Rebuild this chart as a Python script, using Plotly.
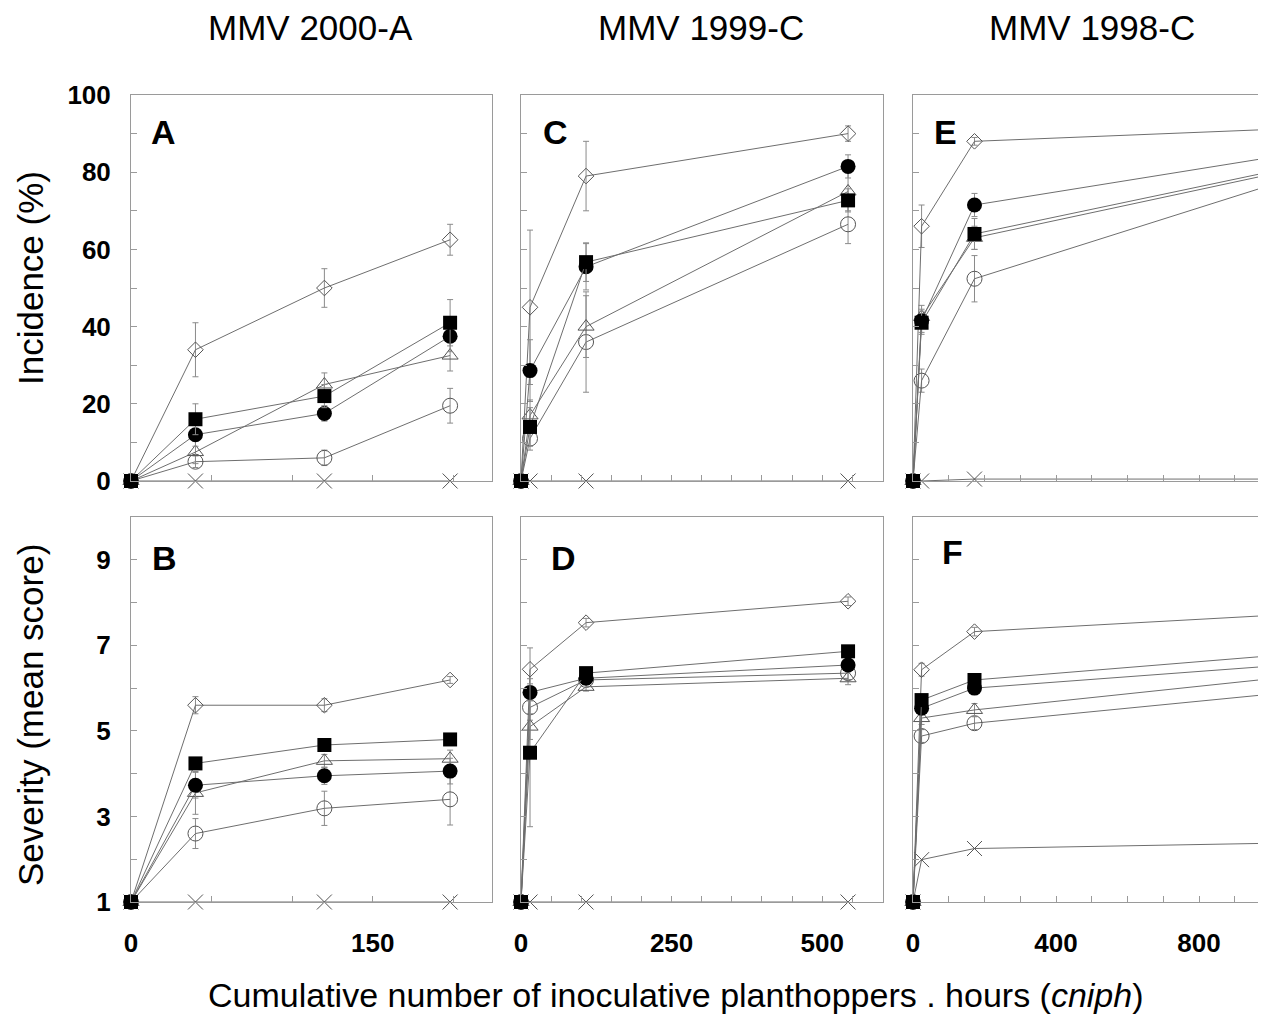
import plotly.graph_objects as go

# ---------------- data ----------------
col_titles = ["MMV 2000-A", "MMV 1999-C", "MMV 1998-C"]
panel_letters = ["A", "C", "E", "B", "D", "F"]

x_2000A = [0, 40, 120, 198]
x_1999C = [0, 15, 108, 543]
x_1998C = [0, 24, 172, 978]

# Incidence (%)
inc_A_diamond = [0, 34, 50, 62.5]
inc_A_diamond_err = [0, 7, 5, 4]
inc_A_square = [0, 16, 22, 41]
inc_A_square_err = [0, 4, 3, 6]
inc_A_fcircle = [0, 12, 17.5, 37.5]
inc_A_fcircle_err = [0, 3, 2, 4]
inc_A_triangle = [0, 7.5, 25, 32.5]
inc_A_triangle_err = [0, 3, 3, 4]
inc_A_ocircle = [0, 5, 6, 19.5]
inc_A_ocircle_err = [0, 1.5, 2, 4.5]
inc_A_cross = [0, 0, 0, 0]

inc_C_diamond = [0, 45, 79, 90]
inc_C_diamond_err = [0, 20, 9, 2]
inc_C_square = [0, 14, 56.7, 72.7]
inc_C_square_err = [0, 5, 5, 3]
inc_C_fcircle = [0, 28.6, 55.5, 81.5]
inc_C_fcircle_err = [0, 8, 6, 3]
inc_C_triangle = [0, 17, 40, 75]
inc_C_triangle_err = [0, 4, 8, 5]
inc_C_ocircle = [0, 11, 36, 66.5]
inc_C_ocircle_err = [0, 3, 13, 5]
inc_C_cross = [0, 0, 0, 0]

inc_E_diamond = [0, 66, 88, 91]
inc_E_diamond_err = [0, 5.5, 1, 1]
inc_E_square = [0, 41, 64, 79.7]
inc_E_square_err = [0, 3, 4, 1]
inc_E_fcircle = [0, 41.5, 71.5, 83.5]
inc_E_fcircle_err = [0, 3, 3, 1]
inc_E_triangle = [0, 42.5, 63, 79]
inc_E_triangle_err = [0, 3, 3, 1]
inc_E_ocircle = [0, 26, 52.4, 76]
inc_E_ocircle_err = [0, 3, 6, 2]
inc_E_cross = [0, 0, 0.5, 0.5]

# Severity (mean score)
sev_B_diamond = [1, 5.6, 5.6, 6.19]
sev_B_diamond_err = [0, 0.2, 0.15, 0.08]
sev_B_square = [1, 4.24, 4.67, 4.80]
sev_B_square_err = [0, 0.1, 0.1, 0.1]
sev_B_fcircle = [1, 3.73, 3.95, 4.06]
sev_B_fcircle_err = [0, 0.3, 0.2, 0.3]
sev_B_triangle = [1, 3.55, 4.3, 4.35]
sev_B_triangle_err = [0, 0.5, 0.15, 0.2]
sev_B_ocircle = [1, 2.6, 3.19, 3.4]
sev_B_ocircle_err = [0, 0.35, 0.4, 0.6]
sev_B_cross = [1, 1, 1, 1]

sev_D_diamond = [1, 6.44, 7.53, 8.03]
sev_D_diamond_err = [0, 0.5, 0.1, 0.1]
sev_D_square = [1, 4.49, 6.35, 6.86]
sev_D_square_err = [0, 1.73, 0.1, 0.1]
sev_D_fcircle = [1, 5.9, 6.23, 6.54]
sev_D_fcircle_err = [0, 0.2, 0.1, 0.1]
sev_D_triangle = [1, 5.1, 6.03, 6.23]
sev_D_triangle_err = [0, 0.3, 0.1, 0.15]
sev_D_ocircle = [1, 5.55, 6.19, 6.35]
sev_D_ocircle_err = [0, 0.3, 0.1, 0.15]
sev_D_cross = [1, 1, 1, 1]

sev_F_diamond = [1, 6.43, 7.32, 7.69]
sev_F_diamond_err = [0, 0.15, 0.1, 0.1]
sev_F_square = [1, 5.72, 6.19, 6.74]
sev_F_square_err = [0, 0.1, 0.1, 0.1]
sev_F_fcircle = [1, 5.53, 6.0, 6.5]
sev_F_fcircle_err = [0, 0.1, 0.1, 0.1]
sev_F_triangle = [1, 5.3, 5.49, 6.2]
sev_F_triangle_err = [0, 0.15, 0.15, 0.1]
sev_F_ocircle = [1, 4.88, 5.18, 5.84]
sev_F_ocircle_err = [0, 0.15, 0.15, 0.1]
sev_F_cross = [1, 1.99, 2.25, 2.37]

inc_ticks = [0, 10, 20, 30, 40, 50, 60, 70, 80, 90, 100]
inc_labels = ["0", "", "20", "", "40", "", "60", "", "80", "", "100"]
sev_ticks = [1, 2, 3, 4, 5, 6, 7, 8, 9, 10]
sev_labels = ["1", "", "3", "", "5", "", "7", "", "9", ""]

xt_A = [0, 50, 100, 150, 200]
xt_A_lab = ["0", "", "", "150", ""]
xt_C = [0, 50, 100, 150, 200, 250, 300, 350, 400, 450, 500, 550]
xt_C_lab = ["0", "", "", "", "", "250", "", "", "", "", "500", ""]
xt_E = [0, 100, 200, 300, 400, 500, 600, 700, 800, 900]
xt_E_lab = ["0", "", "", "", "400", "", "", "", "800", ""]

# ---------------- styling ----------------
LINE = "#6e6e6e"
GRAYM = "#555555"
AX = "#9a9a9a"
FONT = "Liberation Sans, Arial, sans-serif"

styles = {
    "cross": dict(symbol="x-thin-open", size=15, color=GRAYM, line=dict(color=GRAYM, width=1)),
    "ocircle": dict(symbol="circle-open", size=15, color=GRAYM, line=dict(color=GRAYM, width=1)),
    "triangle": dict(symbol="triangle-up-open", size=14, color=GRAYM, line=dict(color=GRAYM, width=1)),
    "diamond": dict(symbol="diamond-open", size=12, color=GRAYM, line=dict(color=GRAYM, width=1)),
    "fcircle": dict(symbol="circle", size=15, color="black", line=dict(color="black", width=0)),
    "square": dict(symbol="square", size=14, color="black", line=dict(color="black", width=0)),
}

panels = [
    ("", x_2000A, {
        "cross": (inc_A_cross, None), "ocircle": (inc_A_ocircle, inc_A_ocircle_err),
        "triangle": (inc_A_triangle, inc_A_triangle_err), "diamond": (inc_A_diamond, inc_A_diamond_err),
        "fcircle": (inc_A_fcircle, inc_A_fcircle_err), "square": (inc_A_square, inc_A_square_err)}),
    ("2", x_1999C, {
        "cross": (inc_C_cross, None), "ocircle": (inc_C_ocircle, inc_C_ocircle_err),
        "triangle": (inc_C_triangle, inc_C_triangle_err), "diamond": (inc_C_diamond, inc_C_diamond_err),
        "fcircle": (inc_C_fcircle, inc_C_fcircle_err), "square": (inc_C_square, inc_C_square_err)}),
    ("3", x_1998C, {
        "cross": (inc_E_cross, None), "ocircle": (inc_E_ocircle, inc_E_ocircle_err),
        "triangle": (inc_E_triangle, inc_E_triangle_err), "diamond": (inc_E_diamond, inc_E_diamond_err),
        "fcircle": (inc_E_fcircle, inc_E_fcircle_err), "square": (inc_E_square, inc_E_square_err)}),
    ("4", x_2000A, {
        "cross": (sev_B_cross, None), "ocircle": (sev_B_ocircle, sev_B_ocircle_err),
        "triangle": (sev_B_triangle, sev_B_triangle_err), "diamond": (sev_B_diamond, sev_B_diamond_err),
        "fcircle": (sev_B_fcircle, sev_B_fcircle_err), "square": (sev_B_square, sev_B_square_err)}),
    ("5", x_1999C, {
        "cross": (sev_D_cross, None), "ocircle": (sev_D_ocircle, sev_D_ocircle_err),
        "triangle": (sev_D_triangle, sev_D_triangle_err), "diamond": (sev_D_diamond, sev_D_diamond_err),
        "fcircle": (sev_D_fcircle, sev_D_fcircle_err), "square": (sev_D_square, sev_D_square_err)}),
    ("6", x_1998C, {
        "cross": (sev_F_cross, None), "ocircle": (sev_F_ocircle, sev_F_ocircle_err),
        "triangle": (sev_F_triangle, sev_F_triangle_err), "diamond": (sev_F_diamond, sev_F_diamond_err),
        "fcircle": (sev_F_fcircle, sev_F_fcircle_err), "square": (sev_F_square, sev_F_square_err)}),
]

fig = go.Figure()
for suf, xs, series in panels:
    for name, (ys, err) in series.items():
        st = styles[name]
        tr = dict(
            x=xs, y=ys, mode="lines+markers", name=name, showlegend=False,
            xaxis="x" + suf, yaxis="y" + suf, cliponaxis=False,
            line=dict(color=LINE, width=1),
            marker=st,
        )
        if err is not None:
            tr["error_y"] = dict(type="data", array=err, visible=True,
                                 color="#8a8a8a", thickness=1, width=3)
        fig.add_trace(go.Scatter(**tr))

# page has an 8px body margin; size the figure so it fits the window exactly
OFF = 8
W, H = 1266 - 2 * OFF, 1025 - 2 * OFF
def fx(px):
    return (px - OFF) / W
def fy(py):
    return 1 - (py - OFF) / H

xdoms = [[fx(131), fx(492)], [fx(521), fx(883)], [fx(913), 1.0]]
ydom_top = [fy(481), fy(95)]
ydom_bot = [fy(902), fy(517)]
xranges = [[0, 224], [0, 601], [0, (1266 - OFF - 913) / 0.3575]]
xtv = [(xt_A, xt_A_lab), (xt_C, xt_C_lab), (xt_E, xt_E_lab)]

tickfont = dict(family=FONT, size=26, color="black", weight="bold")
layout = dict(
    width=W, height=H, autosize=False,
    margin=dict(l=0, r=0, t=0, b=0, pad=0, autoexpand=False),
    paper_bgcolor="white", plot_bgcolor="white",
    font=dict(family=FONT, color="black"),
)
for i in range(6):
    suf = "" if i == 0 else str(i + 1)
    col = i % 3
    top = i < 3
    xa = dict(
        domain=xdoms[col], range=xranges[col], anchor="y" + suf,
        showline=True, linecolor=AX, linewidth=1, mirror=True,
        ticks="inside", ticklen=6, tickcolor=AX, tickwidth=1,
        tickvals=xtv[col][0], ticktext=xtv[col][1],
        showticklabels=not top, tickfont=tickfont, ticklabelstandoff=18,
        showgrid=False, zeroline=False, fixedrange=True, automargin=False,
    )
    ya = dict(
        domain=ydom_top if top else ydom_bot,
        range=[0, 100] if top else [1, 10], anchor="x" + suf,
        showline=True, linecolor=AX, linewidth=1, mirror=(col != 2),
        ticks="inside", ticklen=6, tickcolor=AX, tickwidth=1,
        tickvals=inc_ticks if top else sev_ticks,
        ticktext=inc_labels if top else sev_labels,
        showticklabels=(col == 0), tickfont=tickfont, ticklabelstandoff=14,
        showgrid=False, zeroline=False, fixedrange=True, automargin=False,
    )
    layout["xaxis" + suf] = xa
    layout["yaxis" + suf] = ya

annotations = []
title_font = dict(family=FONT, size=35, color="black")
for t, cx in zip(col_titles, [310, 701, 1092]):
    annotations.append(dict(text=t, x=fx(cx), y=fy(28), xref="paper", yref="paper",
                            showarrow=False, font=title_font, xanchor="center", yanchor="middle"))
letter_pos = [(163, 132), (555, 132), (945, 132), (164, 558), (563, 558), (952, 552)]
for L, (lx, ly) in zip(panel_letters, letter_pos):
    annotations.append(dict(text="<b>" + L + "</b>", x=fx(lx), y=fy(ly), xref="paper", yref="paper",
                            showarrow=False, font=dict(family=FONT, size=34, color="black"),
                            xanchor="center", yanchor="middle"))
annotations.append(dict(text="Incidence (%)", x=fx(30), y=fy(278), xref="paper", yref="paper",
                        showarrow=False, textangle=-90, font=title_font,
                        xanchor="center", yanchor="middle"))
annotations.append(dict(text="Severity (mean score)", x=fx(30), y=fy(715), xref="paper", yref="paper",
                        showarrow=False, textangle=-90, font=title_font,
                        xanchor="center", yanchor="middle"))
annotations.append(dict(text="Cumulative number of inoculative planthoppers . hours (<i>cniph</i>)",
                        x=fx(676), y=fy(1015), xref="paper", yref="paper", borderpad=0,
                        showarrow=False, font=dict(family=FONT, size=34, color="black"),
                        xanchor="center", yanchor="bottom"))
layout["annotations"] = annotations

fig.update_layout(**layout)
fig.write_html("out.html")
